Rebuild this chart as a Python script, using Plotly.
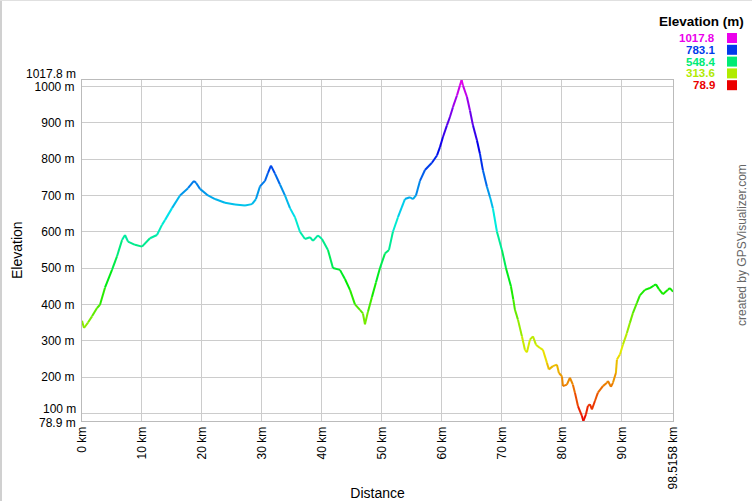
import colorsys
import plotly.graph_objects as go

# ---- data ----
distance_km = [
    0.0, 0.33, 1.0, 1.67, 2.5, 3.0, 3.83, 5.0, 5.83, 6.67, 7.17, 7.67, 8.83, 10.0,
    11.33, 12.5, 13.33, 13.83, 15.0, 16.33, 17.67, 18.67, 19.0, 19.67, 21.0, 22.17,
    23.83, 25.5, 27.17, 28.33, 29.0, 29.67, 30.5, 31.0, 31.5, 32.17, 33.0, 33.83,
    34.67, 35.5, 36.33, 37.17, 38.0, 38.5, 39.33, 40.0, 41.0, 41.83, 43.0, 43.83,
    44.67, 45.5, 46.33, 46.83, 47.17, 47.67, 48.33, 49.0, 49.67, 50.5, 51.17, 51.83,
    52.67, 53.83, 54.67, 55.17, 55.67, 56.33, 57.17, 58.33, 59.17, 59.67, 60.17,
    60.83, 61.33, 61.83, 62.5, 63.0, 63.28, 63.5, 64.17, 64.67, 65.17, 65.83, 66.33,
    66.83, 67.5, 68.0, 68.5, 69.17, 70.0, 70.67, 71.5, 71.9, 72.17, 72.67, 73.33,
    73.83, 74.17, 74.67, 75.17, 75.67, 76.33, 76.83, 77.5, 77.83, 78.5, 79.17, 79.5,
    80.0, 80.17, 80.83, 81.33, 81.83, 82.17, 82.67, 83.33, 83.58, 84.0, 84.33, 84.67,
    85.0, 85.5, 86.0, 86.83, 87.5, 87.67, 88.17, 88.5, 89.0, 89.17, 89.67, 90.17,
    90.83, 91.33, 91.83, 92.5, 93.0, 93.83, 94.67, 95.33, 95.67, 96.17, 96.83, 97.67,
    98.0, 98.5158,
]
elevation_m = [
    355, 335, 350, 367, 390, 399, 446, 495, 532, 577, 591, 573, 564, 559,
    582, 591, 619, 632, 665, 700, 720, 740, 735, 718, 700, 690,
    680, 675, 672, 676, 690, 725, 740, 762, 782, 760, 730, 700,
    665, 640, 600, 580, 585, 575, 590, 580, 550, 500, 495, 470,
    440, 400, 385, 375, 345, 380, 420, 460, 500, 540, 550, 600,
    640, 690, 695, 690, 700, 740, 770, 790, 810, 833, 861,
    893, 916, 943, 975, 1003, 1017.8, 1003, 971, 934, 893, 852, 815,
    769, 724, 696, 664, 600, 550, 500, 450, 413, 385, 358, 312,
    275, 268, 303, 312, 289, 280, 275, 239, 221, 230, 234, 211,
    202, 175, 179, 198, 179, 157, 120, 93, 78.9, 97, 120, 125,
    111, 134, 157, 175, 184, 189, 173, 184, 211, 248, 262, 289,
    321, 349, 376, 404, 425, 440, 445, 452, 455, 442, 428, 440,
    445, 435,
]
y_ticks = [100, 200, 300, 400, 500, 600, 700, 800, 900, 1000]
x_ticks = [0, 10, 20, 30, 40, 50, 60, 70, 80, 90, 98.5158]
x_tick_labels = ["0 km", "10 km", "20 km", "30 km", "40 km", "50 km", "60 km",
                 "70 km", "80 km", "90 km", "98.5158 km"]
legend_values = [1017.8, 783.1, 548.4, 313.6, 78.9]

E_MIN, E_MAX = 78.9, 1017.8
X_MAX = 98.5158


def ele_color(e):
    h = 300.0 * (e - E_MIN) / (E_MAX - E_MIN) / 360.0
    r, g, b = colorsys.hls_to_rgb(h, 0.46, 1.0)
    return "rgb(%d,%d,%d)" % (round(r * 255), round(g * 255), round(b * 255))


fig = go.Figure()
for i in range(len(distance_km) - 1):
    e_mid = (elevation_m[i] + elevation_m[i + 1]) / 2.0
    fig.add_trace(go.Scatter(
        x=distance_km[i:i + 2], y=elevation_m[i:i + 2], mode="lines",
        line=dict(color=ele_color(e_mid), width=2),
        hoverinfo="skip", showlegend=False,
    ))

FONT = "Liberation Sans, Arial, sans-serif"
L, R, T, B = 82, 673, 80, 421
PW, PH = R - L, B - T


def px(x):
    return (x - L) / PW


def py(y):
    return (B - y) / PH


annotations = [
    dict(x=0, y=1017.8, xref="paper", yref="y", text="1017.8 m", showarrow=False,
         xanchor="right", yanchor="middle", xshift=-4, yshift=6,
         font=dict(family=FONT, size=12, color="black")),
    dict(x=0, y=100, xref="paper", yref="y", text="100 m", showarrow=False,
         xanchor="right", yanchor="middle", xshift=-4, yshift=4,
         font=dict(family=FONT, size=12, color="black")),
    dict(x=0, y=78.9, xref="paper", yref="y", text="78.9 m", showarrow=False,
         xanchor="right", yanchor="middle", xshift=-4, yshift=-2,
         font=dict(family=FONT, size=12, color="black")),
    dict(x=px(746), y=py(22), xref="paper", yref="paper", text="<b>Elevation (m)</b>",
         showarrow=False, xanchor="right", yanchor="middle",
         font=dict(family=FONT, size=13.5, color="black")),
    dict(x=px(742), y=py(245), xref="paper", yref="paper",
         text="created by GPSVisualizer.com", textangle=-90, showarrow=False,
         xanchor="center", yanchor="middle",
         font=dict(family=FONT, size=12, color="#666666")),
    dict(x=px(17), y=py(250), xref="paper", yref="paper",
         text="Elevation", textangle=-90, showarrow=False,
         xanchor="center", yanchor="middle",
         font=dict(family=FONT, size=14, color="black")),
]
shapes = [
    dict(type="line", xref="paper", yref="paper", x0=px(1), x1=px(1), y0=py(0), y1=py(501),
         line=dict(color="#d0d0d0", width=2)),
    dict(type="line", xref="paper", yref="paper", x0=px(0), x1=px(752), y0=py(0.5), y1=py(0.5),
         line=dict(color="#e0e0e0", width=1)),
]
for k, v in enumerate(legend_values):
    yc = 38 + k * 11.8
    c = ele_color(v)
    annotations.append(dict(
        x=px(717), y=py(yc), xref="paper", yref="paper", text="<b>%s</b>" % v,
        showarrow=False, xanchor="right", yanchor="middle",
        font=dict(family=FONT, size=11.5, color=c)))
    shapes.append(dict(type="rect", xref="paper", yref="paper",
                       x0=px(727), x1=px(737), y0=py(yc + 5), y1=py(yc - 5),
                       fillcolor=c, line=dict(width=0)))

fig.update_layout(
    width=752, height=501,
    margin=dict(l=L, r=752 - R, t=T, b=501 - B, pad=0),
    paper_bgcolor="white", plot_bgcolor="white",
    font=dict(family=FONT, size=12, color="black"),
    annotations=annotations, shapes=shapes,
    xaxis=dict(
        range=[0, X_MAX], tickmode="array", tickvals=x_ticks, ticktext=x_tick_labels,
        tickangle=-90, showgrid=True, gridcolor="#cccccc", gridwidth=1,
        showline=True, linecolor="#bbbbbb", mirror=True, zeroline=False,
        ticks="", tickfont=dict(size=12),
        title=dict(text="Distance", font=dict(size=14), standoff=0),
        automargin=False,
    ),
    yaxis=dict(
        range=[E_MIN, E_MAX], tickmode="array", tickvals=y_ticks,
        ticktext=[("" if v == 100 else "%d m" % v) for v in y_ticks],
        showgrid=True, gridcolor="#cccccc", gridwidth=1,
        showline=True, linecolor="#bbbbbb", mirror=True, zeroline=False,
        ticks="", ticklabelstandoff=4, tickfont=dict(size=12),
        automargin=False,
    ),
)

fig.write_html("out.html")
